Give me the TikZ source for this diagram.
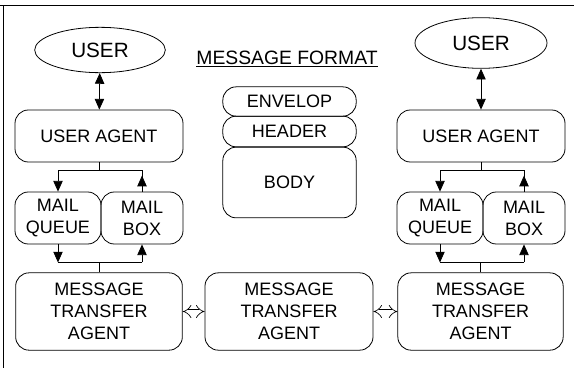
\documentclass[tikz,border=0pt]{standalone}
\usepackage{fontspec}
\setmainfont{Liberation Sans}
\usetikzlibrary{arrows.meta,calc,shapes.geometric}

\tikzset{
    box/.style={draw, rounded corners=10pt, inner sep=0pt, align=center,
                font=\fontsize{13.5}{16.5}\selectfont},
    user/.style={draw, ellipse, inner sep=0pt, font=\fontsize{15.5}{18}\selectfont},
    tri/.tip={Triangle[width=7pt,length=8pt]},
    link/.style={double, double distance=3pt, line width=0.5pt, {Implies}-{Implies}}
}

\begin{document}
\begin{tikzpicture}[x=0.75pt, y=-0.75pt, line width=0.6pt]
    \useasboundingbox (0,0) rectangle (574,368);
    \draw (0,5) -- (574,5);
    \draw (3,5) -- (3,368);

    % left station
    \node[user, minimum width=98pt, minimum height=34pt] (luser) at (100,50) {USER};
    \node[box, minimum width=126pt, minimum height=39pt] (lua) at (99,136) {USER AGENT};
    \node[box, minimum width=64.5pt, minimum height=39pt] (lq) at (58,218) {MAIL\\QUEUE};
    \node[box, minimum width=61.5pt, minimum height=39pt] (lb) at (142,218) {MAIL\\BOX};
    \node[box, minimum width=125pt, minimum height=58pt] (lmta) at (99,311.5) {MESSAGE\\TRANSFER\\AGENT};

    % right station
    \node[user, minimum width=99pt, minimum height=38pt] (ruser) at (481,43) {USER};
    \node[box, minimum width=126pt, minimum height=39pt] (rua) at (481,136) {USER AGENT};
    \node[box, minimum width=64.5pt, minimum height=39pt] (rq) at (440,218) {MAIL\\QUEUE};
    \node[box, minimum width=61.5pt, minimum height=39pt] (rb) at (524,218) {MAIL\\BOX};
    \node[box, minimum width=124pt, minimum height=58pt] (rmta) at (480.5,311.5) {MESSAGE\\TRANSFER\\AGENT};

    % relay in the middle
    \node[box, minimum width=126pt, minimum height=58pt] (mmta) at (289,311.5) {MESSAGE\\TRANSFER\\AGENT};

    % message format
    \node[font=\fontsize{14.5}{17}\selectfont] (fmt) at (287,59) {\underline{MESSAGE FORMAT}};
    \node[box, minimum width=100pt, minimum height=22pt] (env) at (289.5,101.5) {ENVELOP};
    \node[box, minimum width=100pt, minimum height=23pt] (hdr) at (289.5,131.5) {HEADER};
    \node[box, minimum width=100pt, minimum height=53pt] (body) at (289.5,182.5) {BODY};

    % user <-> agent
    \draw[tri-tri] (luser) -- (lua);
    \draw[tri-tri] (ruser) -- (rua);

    % agent to queue and box
    \coordinate (ltop) at ($(lua.south)+(0,8)$);
    \coordinate (rtop) at ($(rua.south)+(0,8)$);
    \draw (lua.south) -- (ltop);
    \draw[-tri] (ltop) -| (lq.north);
    \draw (ltop) -| (lb.north);
    \draw[-tri] (lb.north) -- ++(0,-16);
    \draw (rua.south) -- (rtop);
    \draw[-tri] (rtop) -| (rq.north);
    \draw (rtop) -| (rb.north);
    \draw[-tri] (rb.north) -- ++(0,-16);

    % queue and box to transfer agent
    \coordinate (lbot) at ($(lmta.north)+(0,-10)$);
    \coordinate (rbot) at ($(rmta.north)+(0,-10)$);
    \draw (lmta.north) -- (lbot);
    \draw[-tri] (lq.south) -- (lq.south |- lbot);
    \draw (lq.south |- lbot) -- (lb.south |- lbot);
    \draw[-tri] (lb.south |- lbot) -- (lb.south);
    \draw (rmta.north) -- (rbot);
    \draw[-tri] (rq.south) -- (rq.south |- rbot);
    \draw (rq.south |- rbot) -- (rb.south |- rbot);
    \draw[-tri] (rb.south |- rbot) -- (rb.south);

    % transfer agents
    \draw[link] (lmta) -- (mmta);
    \draw[link] (mmta) -- (rmta);
\end{tikzpicture}
\end{document}
